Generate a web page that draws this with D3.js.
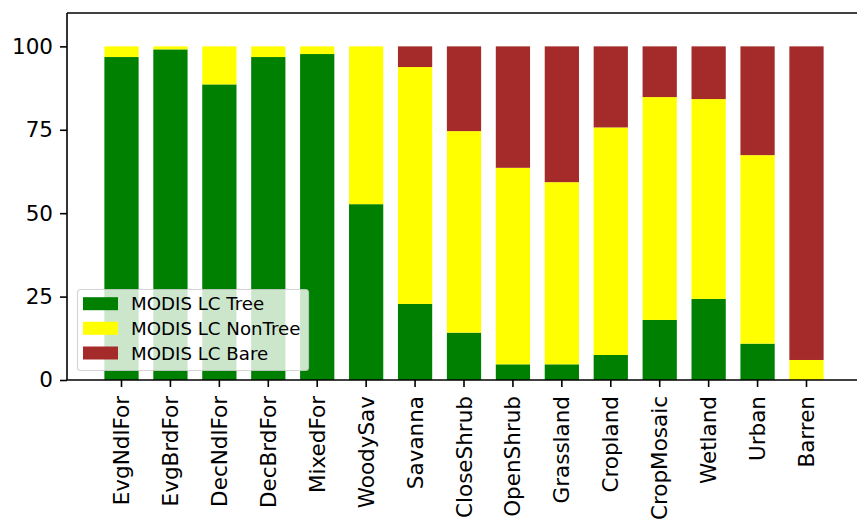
<!DOCTYPE html>
<html>
<head>
<meta charset="utf-8">
<script src="https://cdn.jsdelivr.net/npm/d3@7"></script>
<style>
  html, body { margin: 0; padding: 0; background: #fff; }
  svg { display: block; }
  text { font-family: "DejaVu Sans", sans-serif; fill: #000; }
</style>
</head>
<body>
<svg id="chart" width="857" height="523"></svg>
<script>
const categories = ["EvgNdlFor", "EvgBrdFor", "DecNdlFor", "DecBrdFor", "MixedFor", "WoodySav", "Savanna", "CloseShrub", "OpenShrub", "Grassland", "Cropland", "CropMosaic", "Wetland", "Urban", "Barren"];
const treeValues    = [96.8, 99.1, 88.6, 96.8, 97.7, 52.7, 22.8, 14.2, 4.7, 4.7, 7.5, 18.0, 24.3, 10.9, 0.0];
const nonTreeValues = [3.2, 0.9, 11.4, 3.2, 2.3, 47.3, 71.0, 60.4, 58.9, 54.6, 68.2, 66.8, 59.9, 56.5, 6.0];
const bareValues    = [0.0, 0.0, 0.0, 0.0, 0.0, 0.0, 6.2, 25.4, 36.4, 40.7, 24.3, 15.2, 15.8, 32.6, 94.0];
const seriesNames = ["MODIS LC Tree", "MODIS LC NonTree", "MODIS LC Bare"];
const seriesColors = ["#008000", "#ffff00", "#a52a2a"];
const yTicks = [0, 25, 50, 75, 100];

const rows = categories.map((c, i) => ({
  cat: c,
  "MODIS LC Tree": treeValues[i],
  "MODIS LC NonTree": nonTreeValues[i],
  "MODIS LC Bare": bareValues[i]
}));

const svg = d3.select("#chart");
const mLeft = 67, mRight = 861, mTop = 13, mBottom = 380;

const x = d3.scaleBand().domain(categories).range([mLeft, mRight])
  .paddingInner(0.3).paddingOuter(0.764);
const y = d3.scaleLinear().domain([0, 110]).range([mBottom, mTop]);

const stack = d3.stack().keys(seriesNames)(rows);

svg.append("g").selectAll("g")
  .data(stack)
  .join("g")
  .attr("fill", (d, i) => seriesColors[i])
  .selectAll("rect")
  .data(d => d)
  .join("rect")
  .attr("x", d => x(d.data.cat))
  .attr("width", x.bandwidth())
  .attr("y", d => y(d[1]))
  .attr("height", d => Math.max(0, y(d[0]) - y(d[1])));

// Axes
const yAxis = d3.axisLeft(y).tickValues(yTicks).tickSize(7).tickPadding(7).tickFormat(d3.format("d"));
const gy = svg.append("g").attr("transform", `translate(${mLeft},0)`).call(yAxis);
gy.select(".domain").remove();
gy.selectAll(".tick line").attr("stroke", "#000").attr("stroke-width", 1.6);
gy.selectAll(".tick text").attr("font-size", "21.5px").attr("font-family", "DejaVu Sans").attr("fill", "#000");

const xAxis = d3.axisBottom(x).tickSize(7).tickPadding(0);
const gx = svg.append("g").attr("transform", `translate(0,${mBottom})`).call(xAxis);
gx.select(".domain").remove();
gx.selectAll(".tick line").attr("stroke", "#000").attr("stroke-width", 1.6);
gx.selectAll(".tick text")
  .attr("font-size", "21.5px")
  .attr("font-family", "DejaVu Sans")
  .attr("fill", "#000")
  .attr("text-anchor", "end")
  .attr("dy", null)
  .attr("y", 0)
  .attr("x", 0)
  .attr("dominant-baseline", "central")
  .attr("transform", "translate(0,16) rotate(-90)");

// Spines
const spine = svg.append("g").attr("stroke", "#000").attr("stroke-width", 1.6).attr("fill", "none");
spine.append("line").attr("x1", mLeft).attr("x2", mLeft).attr("y1", mTop).attr("y2", mBottom);
spine.append("line").attr("x1", mLeft).attr("x2", mRight).attr("y1", mBottom).attr("y2", mBottom);
spine.append("line").attr("x1", mLeft).attr("x2", mRight).attr("y1", mTop).attr("y2", mTop);
spine.append("line").attr("x1", mRight).attr("x2", mRight).attr("y1", mTop).attr("y2", mBottom);

// Legend
const lg = svg.append("g");
lg.append("rect")
  .attr("x", 77.5).attr("y", 289.5).attr("width", 231).attr("height", 81)
  .attr("rx", 3).attr("ry", 3)
  .attr("fill", "#fff").attr("fill-opacity", 0.8)
  .attr("stroke", "#cccccc").attr("stroke-opacity", 0.8).attr("stroke-width", 1.2);
const rowY = [303.7, 328.3, 353.0];
seriesNames.forEach((name, i) => {
  lg.append("rect")
    .attr("x", 83).attr("y", rowY[i] - 6.5).attr("width", 35).attr("height", 13)
    .attr("fill", seriesColors[i]);
  lg.append("text")
    .attr("x", 131).attr("y", rowY[i])
    .attr("dominant-baseline", "central")
    .attr("font-size", "18.2px")
    .text(name);
});
</script>
</body>
</html>
